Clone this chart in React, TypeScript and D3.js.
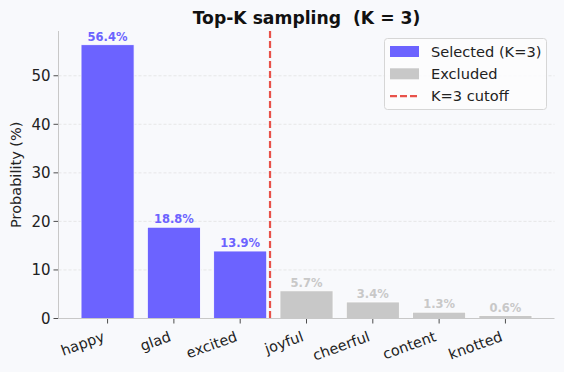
import React from "react";
import * as d3 from "d3";

const categories = ["happy", "glad", "excited", "joyful", "cheerful", "content", "knotted"];
const probs = [56.4, 18.8, 13.9, 5.7, 3.4, 1.3, 0.6];
const K = 3;
const yTicks = [0, 10, 20, 30, 40, 50];
const legendItems = ["Selected (K=3)", "Excluded", "K=3 cutoff"];

const W = 564, H = 372;
const m = { left: 58.5, right: 554.5, top: 31, bottom: 318.5 };
const PURPLE = "#6c63ff";
const GRAY = "#c8c8c8";
const RED = "#e8524a";
const FONT = "DejaVu Sans";

export default function App() {
  const x = d3.scaleLinear().domain([-0.74, categories.length - 1 + 0.74]).range([m.left, m.right]);
  const y = d3.scaleLinear().domain([0, d3.max(probs)! * 1.05]).range([m.bottom, m.top]);
  const bw = x(0.8) - x(0);
  const cut = x(K - 1 + 0.45);
  return (
    <svg width={W} height={H} style={{ position: "absolute", left: 0, top: 0 }} fontFamily={FONT}>
      <rect width={W} height={H} fill="#f8f9fc" />
      {yTicks.map((t) => (
        <g key={t}>
          {t > 0 && (
            <line x1={m.left} x2={m.right} y1={y(t)} y2={y(t)} stroke="#e2e2e2" strokeWidth={0.8} strokeDasharray="3,2" />
          )}
          <line x1={m.left - 5} x2={m.left} y1={y(t)} y2={y(t)} stroke="#222" strokeWidth={0.8} />
          <text x={m.left - 8} y={y(t)} dy="0.35em" textAnchor="end" fontSize={15} fill="#222">{t}</text>
        </g>
      ))}
      {probs.map((p, i) => {
        const sel = i < K;
        const c = sel ? PURPLE : GRAY;
        return (
          <g key={i}>
            <rect x={x(i) - bw / 2} y={y(p)} width={bw} height={y(0) - y(p)} fill={c} stroke="#fff" strokeWidth={0.8} />
            <text x={x(i)} y={y(p) - 4} textAnchor="middle" fontSize={11.5} fontWeight="bold" fill={c}>{p.toFixed(1)}%</text>
            <line x1={x(i)} x2={x(i)} y1={m.bottom} y2={m.bottom + 5} stroke="#222" strokeWidth={0.8} />
            <text transform={`translate(${x(i) - 2},${m.bottom + 22}) rotate(-20)`} textAnchor="end" fontSize={14.5} fill="#222">{categories[i]}</text>
          </g>
        );
      })}
      <line x1={cut} x2={cut} y1={m.top} y2={m.bottom} stroke={RED} strokeWidth={2.2} strokeDasharray="7,3" />
      <line x1={m.left} x2={m.left} y1={m.top} y2={m.bottom} stroke="#c8c8c8" strokeWidth={1} />
      <line x1={m.left} x2={m.right} y1={m.bottom} y2={m.bottom} stroke="#c8c8c8" strokeWidth={1} />
      <text x={16} y={(m.top + m.bottom) / 2} transform={`rotate(-90,16,${(m.top + m.bottom) / 2})`} textAnchor="middle" dy="0.35em" fontSize={14.5} fill="#222">Probability (%)</text>
      <text x={(m.left + m.right) / 2} y={18} textAnchor="middle" dy="0.35em" fontSize={17.2} fontWeight="bold" fill="#111" style={{ whiteSpace: "pre" }}>{"Top-K sampling  (K = 3)"}</text>
      <g>
        <rect x={384.5} y={38.5} width={162} height={71} rx={3} fill="#fcfcfd" fillOpacity={0.9} stroke="#d6d6d6" />
        {legendItems.map((l, i) => {
          const cy = 51.5 + i * 22.3;
          return (
            <g key={l}>
              {i < 2 ? (
                <rect x={390} y={cy - 5.5} width={29} height={11} fill={i === 0 ? PURPLE : GRAY} />
              ) : (
                <line x1={390} x2={419} y1={cy} y2={cy} stroke={RED} strokeWidth={2.2} strokeDasharray="7,3" />
              )}
              <text x={431} y={cy} dy="0.35em" fontSize={14.6} fill="#222">{l}</text>
            </g>
          );
        })}
      </g>
    </svg>
  );
}
